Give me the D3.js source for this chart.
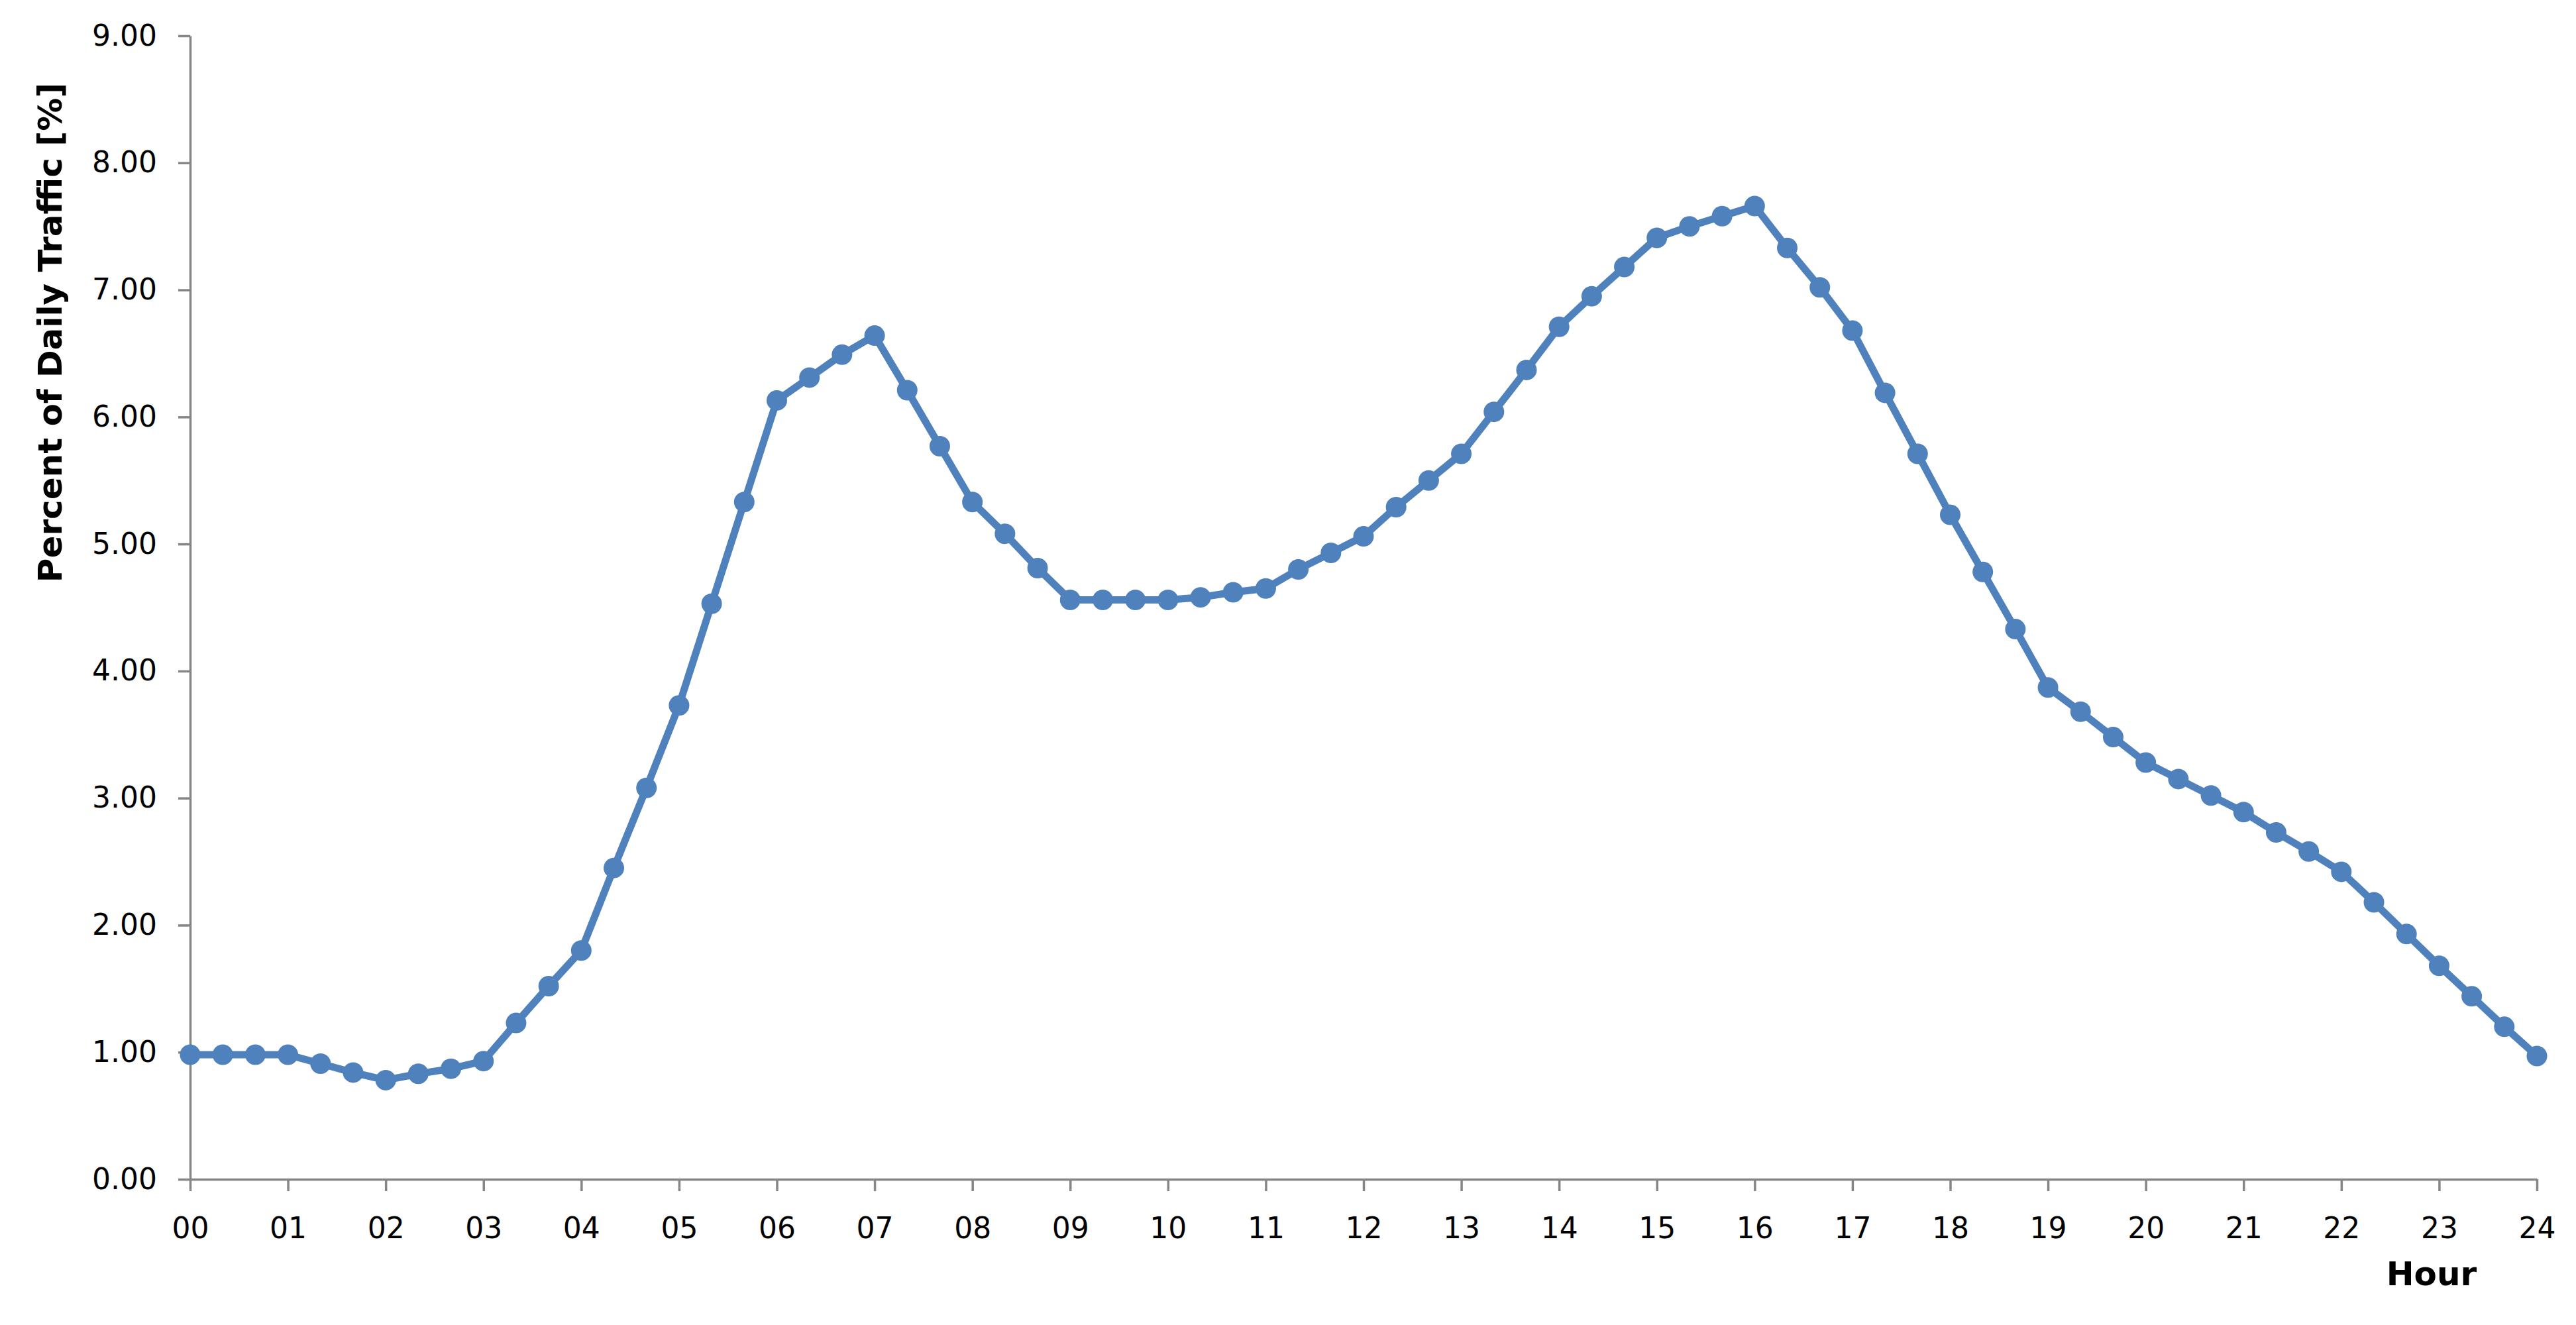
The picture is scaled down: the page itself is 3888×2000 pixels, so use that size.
<!DOCTYPE html>
<html>
<head>
<meta charset="utf-8">
<script src="https://cdn.jsdelivr.net/npm/d3@7"></script>
<style>
  html, body { margin: 0; padding: 0; background: #ffffff; }
  svg { display: block; }
</style>
</head>
<body>
<script>
// ---- data ----
const minutes = [0,20,40,60,80,100,120,140,160,180,200,220,240,260,280,300,320,340,360,380,400,420,440,460,480,500,520,540,560,580,600,620,640,660,680,700,720,740,760,780,800,820,840,860,880,900,920,940,960,980,1000,1020,1040,1060,1080,1100,1120,1140,1160,1180,1200,1220,1240,1260,1280,1300,1320,1340,1360,1380,1400,1420,1440];
const traffic = [0.98,0.98,0.98,0.98,0.91,0.84,0.78,0.83,0.87,0.93,1.23,1.52,1.80,2.45,3.08,3.73,4.53,5.33,6.13,6.31,6.49,6.64,6.21,5.77,5.33,5.08,4.81,4.56,4.56,4.56,4.56,4.58,4.62,4.65,4.80,4.93,5.06,5.29,5.50,5.71,6.04,6.37,6.71,6.95,7.18,7.41,7.50,7.58,7.66,7.33,7.02,6.68,6.19,5.71,5.23,4.78,4.33,3.87,3.68,3.48,3.28,3.15,3.02,2.89,2.73,2.58,2.42,2.18,1.93,1.68,1.44,1.20,0.97];
const xTickLabels = ["00","01","02","03","04","05","06","07","08","09","10","11","12","13","14","15","16","17","18","19","20","21","22","23","24"];
const yTickValues = [0,1,2,3,4,5,6,7,8,9];
const yTitle = "Percent of Daily Traffic [%]";
const xTitle = "Hour";

// ---- layout ----
const W = 3888, H = 2000;
const mLeft = 287, mRight = 3829, mTop = 54, mBottom = 1780;
const axisColor = "#868686";
const lineColor = "#4F81BD";
const fontFam = "'DejaVu Sans', Verdana, sans-serif";

const svg = d3.select("body").append("svg").attr("width", W).attr("height", H);

const x = d3.scaleLinear().domain([0, 1440]).range([mLeft, mRight]);
const y = d3.scaleLinear().domain([0, 9]).range([mBottom, mTop]);

// y axis
const yAxis = d3.axisLeft(y).tickValues(yTickValues).tickFormat(d3.format(".2f"))
  .tickSizeInner(18).tickSizeOuter(0).tickPadding(32);
const gy = svg.append("g").attr("transform", `translate(${mLeft},0)`).call(yAxis);
gy.select(".domain").attr("stroke", axisColor).attr("stroke-width", 3.5);
gy.selectAll(".tick line").attr("stroke", axisColor).attr("stroke-width", 3.5);
gy.selectAll(".tick text").attr("font-family", fontFam)
  .attr("font-size", 44).attr("fill", "#000");

// x axis
const xAxis = d3.axisBottom(x).tickValues(xTickLabels.map((d, i) => i * 60))
  .tickFormat((d, i) => xTickLabels[i]).tickSizeInner(18).tickSizeOuter(0).tickPadding(40);
const gx = svg.append("g").attr("transform", `translate(0,${mBottom})`).call(xAxis);
gx.select(".domain").attr("stroke", axisColor).attr("stroke-width", 3.5);
gx.selectAll(".tick line").attr("stroke", axisColor).attr("stroke-width", 3.5);
gx.selectAll(".tick text").attr("font-family", fontFam)
  .attr("font-size", 44).attr("fill", "#000");

// series line
const data = minutes.map((m, i) => ({ m, v: traffic[i] }));
svg.append("path").datum(data)
  .attr("fill", "none").attr("stroke", lineColor).attr("stroke-width", 11)
  .attr("stroke-linejoin", "round").attr("stroke-linecap", "round")
  .attr("d", d3.line().x(d => x(d.m)).y(d => y(d.v)));

svg.append("g").selectAll("circle").data(data).join("circle")
  .attr("cx", d => x(d.m)).attr("cy", d => y(d.v)).attr("r", 15.5)
  .attr("fill", lineColor);

// titles
svg.append("text")
  .attr("transform", `translate(93,502) rotate(-90)`)
  .attr("text-anchor", "middle")
  .attr("font-family", fontFam)
  .attr("font-weight", "bold").attr("font-size", 50).attr("fill", "#000")
  .text(yTitle);

svg.append("text")
  .attr("x", 3670).attr("y", 1940)
  .attr("text-anchor", "middle")
  .attr("font-family", fontFam)
  .attr("font-weight", "bold").attr("font-size", 50).attr("fill", "#000")
  .text(xTitle);
</script>
</body>
</html>
